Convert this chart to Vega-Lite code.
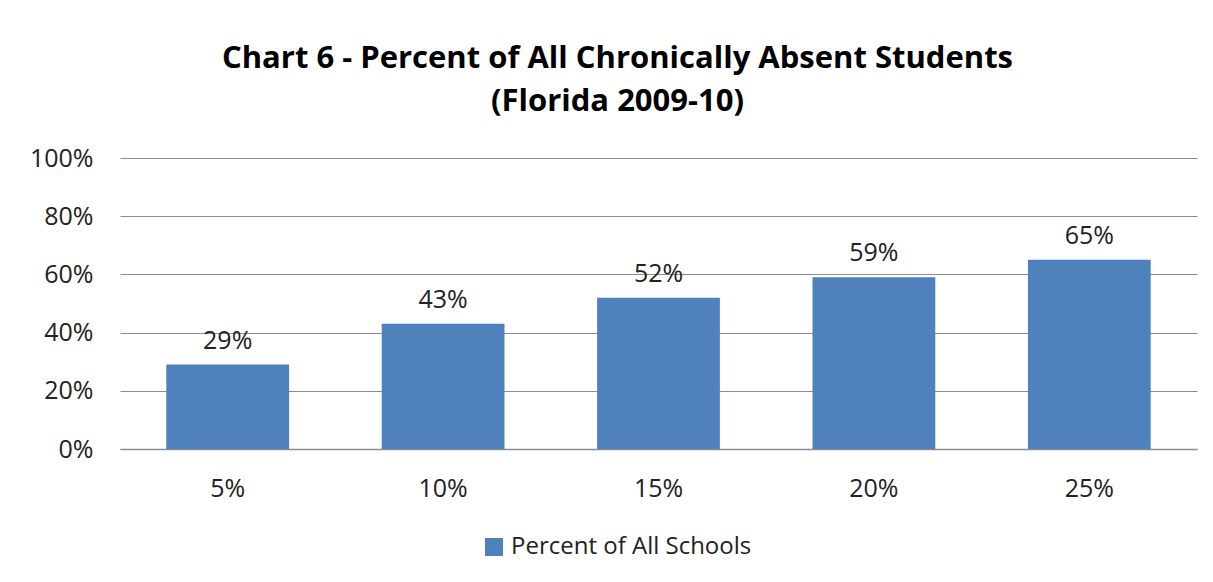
{
  "$schema": "https://vega.github.io/schema/vega-lite/v6.json",
  "autosize": {"type": "none"},
  "width": 1077,
  "height": 291,
  "padding": {"left": 120, "top": 158, "right": 16, "bottom": 133},
  "background": "white",
  "title": {
    "text": ["Chart 6 - Percent of All Chronically Absent Students", "(Florida 2009-10)"],
    "font": "Open Sans",
    "fontSize": 31,
    "fontWeight": "bold",
    "color": "#000000",
    "anchor": "middle",
    "frame": "group",
    "dx": -41,
    "lineHeight": 43,
    "offset": 28
  },
  "data": {
    "values": [
      {"threshold": "5%", "value": 0.29, "series": "Percent of All Schools"},
      {"threshold": "10%", "value": 0.43, "series": "Percent of All Schools"},
      {"threshold": "15%", "value": 0.52, "series": "Percent of All Schools"},
      {"threshold": "20%", "value": 0.59, "series": "Percent of All Schools"},
      {"threshold": "25%", "value": 0.65, "series": "Percent of All Schools"}
    ]
  },
  "encoding": {
    "x": {
      "field": "threshold",
      "type": "ordinal",
      "sort": null,
      "scale": {"paddingInner": 0.43, "paddingOuter": 0.215},
      "axis": {
        "title": null,
        "labelAngle": 0,
        "labelFont": "Open Sans",
        "labelFontSize": 25,
        "labelColor": "#222222",
        "labelPadding": 27,
        "domain": true,
        "domainColor": "#8c8c8c",
        "domainWidth": 1.5,
        "ticks": false
      }
    },
    "y": {
      "field": "value",
      "type": "quantitative",
      "scale": {"domain": [0, 1]},
      "axis": {
        "title": null,
        "format": ".0%",
        "values": [0, 0.2, 0.4, 0.6, 0.8, 1],
        "labelFont": "Open Sans",
        "labelFontSize": 25,
        "labelColor": "#222222",
        "labelPadding": 27,
        "domain": false,
        "ticks": false,
        "grid": true,
        "gridColor": "#8c8c8c",
        "gridWidth": 1
      }
    }
  },
  "layer": [
    {
      "mark": {"type": "bar", "color": "#4F81BD"},
      "encoding": {
        "color": {
          "field": "series",
          "type": "nominal",
          "scale": {"range": ["#4F81BD"]},
          "legend": {
            "title": null,
            "orient": "none",
            "legendX": 362,
            "legendY": 377,
            "symbolType": "square",
            "symbolSize": 324,
            "symbolStrokeWidth": 0,
            "labelFont": "Open Sans",
            "labelFontSize": 24,
            "labelColor": "#222222",
            "labelOffset": 5,
            "labelLimit": 0
          }
        }
      }
    },
    {
      "mark": {"type": "text", "baseline": "bottom", "dy": -11, "font": "Open Sans", "fontSize": 25, "color": "#222222"},
      "encoding": {
        "text": {"field": "value", "type": "quantitative", "format": ".0%"}
      }
    }
  ],
  "config": {"view": {"stroke": null}}
}
